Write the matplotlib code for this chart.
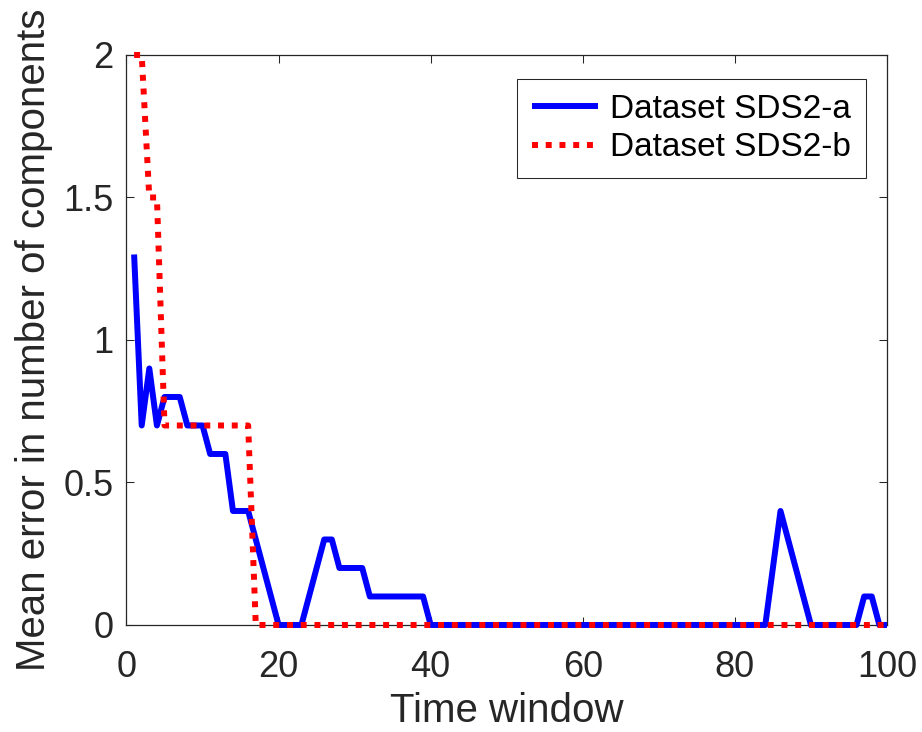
import matplotlib
matplotlib.use("Agg")
import matplotlib.pyplot as plt
import numpy as np
from matplotlib.ticker import FormatStrFormatter

plt.rcParams['font.family'] = ['Liberation Sans', 'DejaVu Sans']

# time windows 1..100
time_window = np.arange(1, 101)

# Dataset SDS2-a (blue, solid)
sds2_a = [1.3, 0.7, 0.9, 0.7, 0.8, 0.8, 0.8, 0.7, 0.7, 0.7,
          0.6, 0.6, 0.6, 0.4, 0.4, 0.4, 0.3, 0.2, 0.1, 0.0,
          0.0, 0.0, 0.0, 0.1, 0.2, 0.3, 0.3, 0.2, 0.2, 0.2,
          0.2, 0.1, 0.1, 0.1, 0.1, 0.1, 0.1, 0.1, 0.1, 0.0] \
    + [0.0] * 44 \
    + [0.2, 0.4, 0.3, 0.2, 0.1, 0.0, 0.0, 0.0, 0.0, 0.0,
       0.0, 0.0, 0.1, 0.1, 0.0, 0.0]

# Dataset SDS2-b (red, dotted)
sds2_b = [2.0, 2.0, 1.5, 1.5] + [0.7] * 12 + [0.0] * 84

xticks = [0, 20, 40, 60, 80, 100]
yticks = [0, 0.5, 1, 1.5, 2]

fig = plt.figure(figsize=(9.22, 7.32), dpi=100)
ax = fig.add_axes([0.1372, 0.1462, 0.8248, 0.7787])

ax.plot(time_window, sds2_a, color='#0000ff', linewidth=4.3, linestyle='-',
        solid_joinstyle='round', solid_capstyle='butt', clip_on=False,
        label='Dataset SDS2-a', zorder=3)
ax.plot(time_window, sds2_b, color='#ff0000', linewidth=4.3,
        linestyle=(0, (1, 1.3)), clip_on=False,
        label='Dataset SDS2-b', zorder=4)

ax.set_xlim(0, 100)
ax.set_ylim(0, 2)
ax.set_xticks(xticks)
ax.set_yticks(yticks)
ax.yaxis.set_major_formatter(FormatStrFormatter('%g'))

ax.tick_params(direction='in', length=5.5, width=0.75, labelsize=26,
               colors='#262626', top=True, right=True)
ax.tick_params(axis='x', pad=18)
ax.tick_params(axis='y', pad=9.5)
for s in ax.spines.values():
    s.set_color('#262626')
    s.set_linewidth(0.9)

ax.set_xlabel('Time window', fontsize=29, color='#262626')
ax.set_ylabel('Mean error in number of components', fontsize=29,
              color='#262626')
ax.xaxis.set_label_coords(0.5, -0.118)
ax.yaxis.set_label_coords(-0.097, 0.5)

leg = ax.legend(loc='upper right', bbox_to_anchor=(0.9724, 0.958),
                borderaxespad=0, fontsize=24, handlelength=2.0,
                fancybox=False, framealpha=1, edgecolor='#262626',
                borderpad=0.45, labelspacing=0.22, handletextpad=0.35)
leg.get_frame().set_linewidth(0.75)

fig.savefig('out.png', dpi=100)
